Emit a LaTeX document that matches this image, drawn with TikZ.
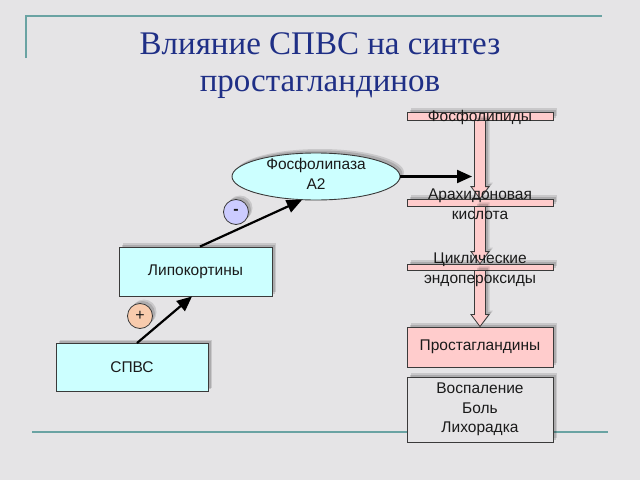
\documentclass[tikz,border=0pt]{standalone}
\usepackage{fontspec}
\setmainfont{Liberation Serif}
\newfontfamily\arialf{Liberation Sans}
\usetikzlibrary{arrows.meta,shapes.geometric,calc}
\definecolor{bg}{HTML}{E5E4E6}
\definecolor{rulec}{HTML}{6AA3A3}
\definecolor{titlec}{HTML}{1F2F86}
\definecolor{cyanf}{HTML}{CCFFFF}
\definecolor{pinkf}{HTML}{FFCCCC}
\definecolor{peachf}{HTML}{F8CBAD}
\definecolor{lavf}{HTML}{CCCCFF}
\definecolor{edgec}{HTML}{3A3A3A}
\definecolor{txt}{HTML}{1A1A1A}
\newcommand\blkarrow[2]{%
  \filldraw[blk] let \p1=(#1), \p2=(#2) in
   (\x1-5.5pt,\y1) -- (\x1-5.5pt,\y2+12pt) -- (\x1-9pt,\y2+12pt) -- (\x1,\y2)
   -- (\x1+9pt,\y2+12pt) -- (\x1+5.5pt,\y2+12pt) -- (\x1+5.5pt,\y1) -- cycle;}
\begin{document}
\begin{tikzpicture}[x=1pt,y=-1pt,
  rulel/.style={draw=rulec,line width=2pt},
  title/.style={text=titlec,font=\fontsize{33}{38}\selectfont,anchor=base,inner sep=0pt},
  shad/.style={
    preaction={draw=none,fill=black,fill opacity=0.12,transform canvas={xshift=4pt,yshift=4pt}},
    preaction={draw=none,fill=black,fill opacity=0.14,transform canvas={xshift=2.5pt,yshift=2.5pt}}},
  box/.style={draw=edgec,line width=0.9pt,shad,inner sep=0pt,text=txt,
    font=\arialf\fontsize{15.5}{19.5}\selectfont,align=center},
  bar/.style={draw=edgec,line width=0.8pt,fill=pinkf,shad,minimum width=146pt,inner sep=0pt},
  lbl/.style={text=txt,font=\arialf\fontsize{15.5}{20}\selectfont,align=center,inner sep=0pt},
  blk/.style={fill=pinkf,draw=edgec,line width=0.8pt,shad},
  sign/.style={circle,draw=edgec,line width=0.8pt,minimum size=25pt,inner sep=0pt,
    font=\arialf\fontsize{16}{16}\selectfont,text=txt,shad},
  conn/.style={draw=black,line width=2.2pt,-{Triangle[length=15pt,width=13pt]}}
]
\fill[bg] (0,0) rectangle (640,480);
\useasboundingbox (0,0) rectangle (640,480);
% frame lines
\draw[rulel] (26,58) -- (26,16) -- (602,16);
\draw[rulel] (32,432) -- (608,432);
% title
\node[title] (t1) at (320,54) {Влияние СПВС на синтез};
\node[title] (t2) at (320,91) {простагландинов};
% left chain
\node[box,fill=cyanf,minimum width=152pt,minimum height=48pt] (spvs) at (132,367.5) {СПВС};
\node[box,fill=cyanf,minimum width=153pt,minimum height=49pt] (lipo) at (195.5,271.5) {Липокортины};
\node[box,ellipse,fill=cyanf,minimum width=168pt,minimum height=47pt] (pla2) at (316,176.5) {};
\node[lbl] (pla2t) at (316,173.5) {Фосфолипаза\\A2};
\node[sign,fill=peachf] (plus) at (140,316) {+};
\node[sign,fill=lavf] (minus) at (236,212) {\textbf{-}};
\draw[conn] ([xshift=5pt]spvs.north) -- ([xshift=-3.5pt]lipo.south);
\draw[conn] ([xshift=4.5pt]lipo.north) -- (pla2.-121);
\coordinate (a3end) at (472,176.5);
\draw[conn] (pla2.east) -- (a3end);
% right chain
\node[bar,minimum height=8pt] (phl) at (480,116) {};
\node[bar,minimum height=7pt] (ara) at (480,202.5) {};
\node[bar,minimum height=6pt] (cyc) at (480,267) {};
\node[box,fill=pinkf,minimum width=146pt,minimum height=40pt] (pg) at (480,347) {Простагландины};
\node[box,fill=bg,minimum width=146pt,minimum height=65pt] (eff) at (480,409.5) {Воспаление\\Боль\\Лихорадка};
\blkarrow{phl.south}{ara.north}
\blkarrow{ara.south}{cyc.north}
\blkarrow{cyc.south}{pg.north}
\node[lbl] (phlt) at (480,117.5) {Фосфолипиды};
\node[lbl] (arat) at (480,204) {Арахидоновая\\кислота};
\node[lbl] (cyct) at (480,270) {Циклические\\эндопероксиды};
\end{tikzpicture}
\end{document}
